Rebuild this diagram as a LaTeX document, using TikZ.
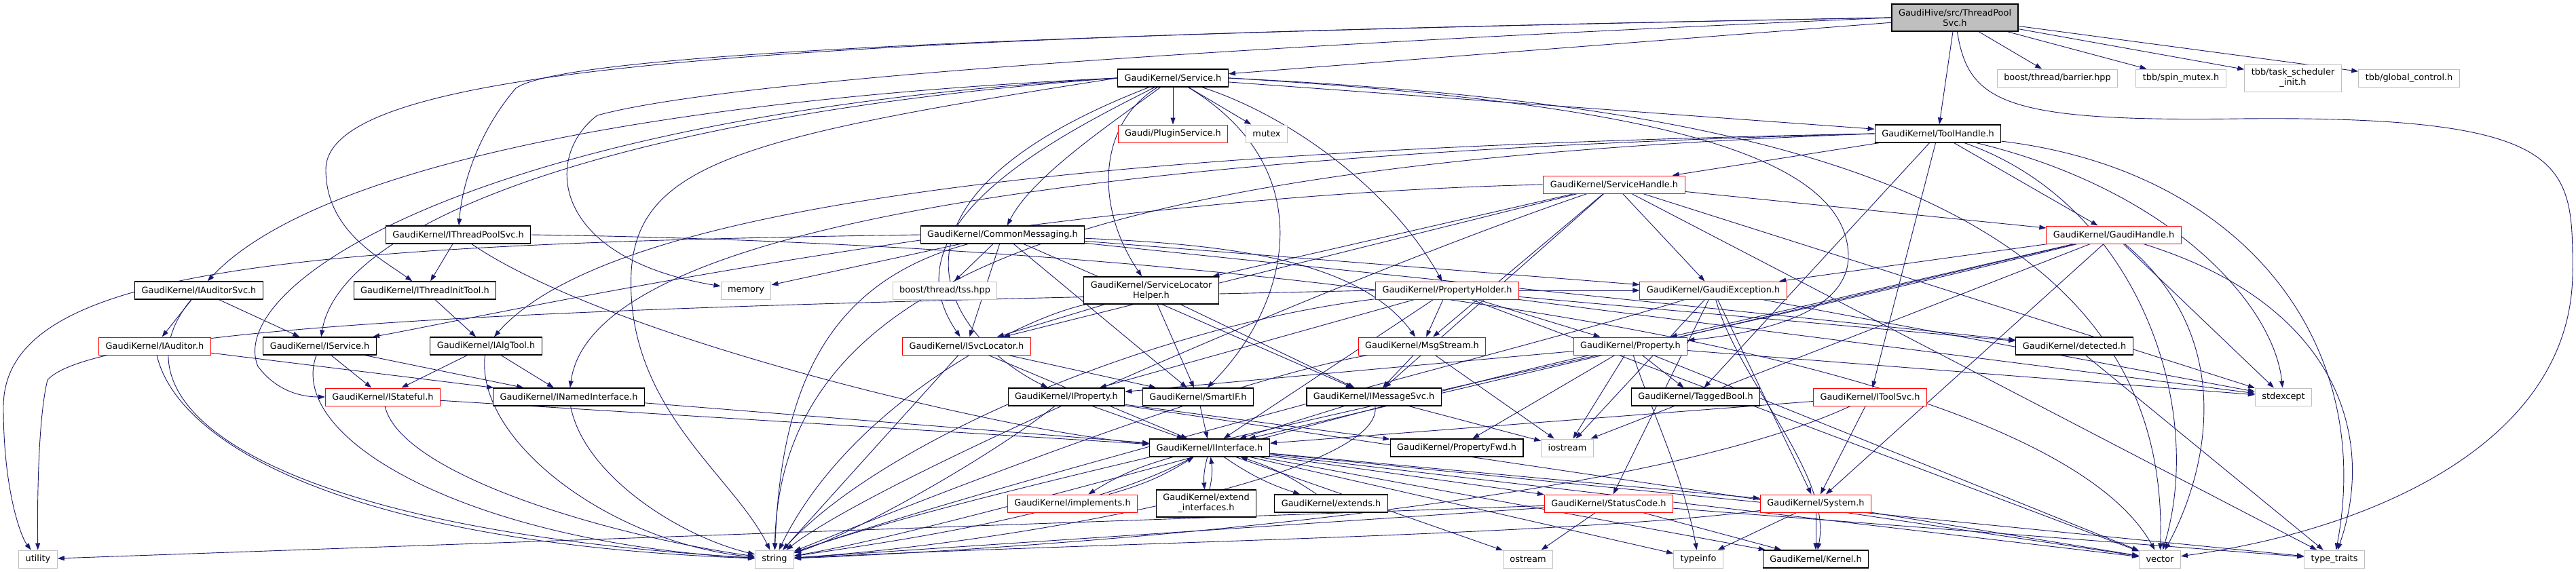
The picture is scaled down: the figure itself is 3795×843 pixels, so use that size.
\documentclass[tikz,border=0pt]{standalone}
\usepackage{fontspec}
\setmainfont{DejaVu Sans}
\usetikzlibrary{arrows.meta}
\definecolor{edgec}{HTML}{191970}
\definecolor{nodegrey}{HTML}{BFBFBF}
\pgfdeclarelayer{bg}
\pgfsetlayers{bg,main}
\begin{document}
\begin{tikzpicture}[x=1pt,y=-1pt,
  box/.style={draw=black,line width=1.3pt,fill=white,minimum height=26pt,inner xsep=10pt,inner ysep=3pt,font=\fontsize{12.9}{15}\selectfont,align=center},
  redbox/.style={box,draw=red,line width=1pt},
  sysbox/.style={box,draw=nodegrey,line width=1pt},
  topbox/.style={box,fill=nodegrey},
  twoline/.style={minimum height=40pt},
  e/.style={draw=edgec,line width=0.9pt,-{Triangle[length=10pt,width=7pt]}},
  ]
\useasboundingbox (0,0) rectangle (3795,843);
% nodes
\node[topbox,twoline] (top) at (2880,26) {GaudiHive/src/ThreadPool\\Svc.h};
\node[box] (service) at (1728,115) {GaudiKernel/Service.h};
\node[sysbox] (barrier) at (3031,115) {boost/thread/barrier.hpp};
\node[sysbox] (spinmutex) at (3213,115) {tbb/spin\_mutex.h};
\node[sysbox,twoline] (tsinit) at (3378,115) {tbb/task\_scheduler\\\_init.h};
\node[sysbox] (globalctl) at (3549,115) {tbb/global\_control.h};
\node[redbox] (plugin) at (1728,197) {Gaudi/PluginService.h};
\node[sysbox] (mutex) at (1866,197) {mutex};
\node[box] (toolhandle) at (2855,197) {GaudiKernel/ToolHandle.h};
\node[redbox] (servicehandle) at (2378,272) {GaudiKernel/ServiceHandle.h};
\node[box] (ithreadpool) at (675,346) {GaudiKernel/IThreadPoolSvc.h};
\node[box] (commonmsg) at (1477,346) {GaudiKernel/CommonMessaging.h};
\node[redbox] (gaudihandle) at (3114,346) {GaudiKernel/GaudiHandle.h};
\node[box] (iauditorsvc) at (293,428) {GaudiKernel/IAuditorSvc.h};
\node[box] (ithreadinit) at (626,428) {GaudiKernel/IThreadInitTool.h};
\node[sysbox] (memory) at (1099,428) {memory};
\node[sysbox] (tss) at (1392,428) {boost/thread/tss.hpp};
\node[box,twoline] (slhelper) at (1696,428) {GaudiKernel/ServiceLocator\\Helper.h};
\node[redbox] (propholder) at (2132,428) {GaudiKernel/PropertyHolder.h};
\node[redbox] (gaudiexc) at (2524,428) {GaudiKernel/GaudiException.h};
\node[redbox] (iauditor) at (228,510) {GaudiKernel/IAuditor.h};
\node[box] (iservice) at (471,510) {GaudiKernel/IService.h};
\node[box] (ialgtool) at (716,510) {GaudiKernel/IAlgTool.h};
\node[redbox] (isvcloc) at (1424,510) {GaudiKernel/ISvcLocator.h};
\node[redbox] (msgstream) at (2095,510) {GaudiKernel/MsgStream.h};
\node[redbox] (property) at (2402,510) {GaudiKernel/Property.h};
\node[box] (detected) at (3056,510) {GaudiKernel/detected.h};
\node[redbox] (istateful) at (564,585) {GaudiKernel/IStateful.h};
\node[box] (inamed) at (838,585) {GaudiKernel/INamedInterface.h};
\node[box] (iproperty) at (1571,585) {GaudiKernel/IProperty.h};
\node[box] (smartif) at (1765,585) {GaudiKernel/SmartIF.h};
\node[box] (imsgsvc) at (2024,585) {GaudiKernel/IMessageSvc.h};
\node[box] (taggedbool) at (2498,585) {GaudiKernel/TaggedBool.h};
\node[redbox] (itoolsvc) at (2755,585) {GaudiKernel/IToolSvc.h};
\node[sysbox] (stdexcept) at (3364,585) {stdexcept};
\node[box] (iinterface) at (1782,660) {GaudiKernel/IInterface.h};
\node[box] (propfwd) at (2146,660) {GaudiKernel/PropertyFwd.h};
\node[sysbox] (iostream) at (2309,660) {iostream};
\node[redbox] (implements) at (1580,742) {GaudiKernel/implements.h};
\node[box,twoline] (extendif) at (1777,742) {GaudiKernel/extend\\\_interfaces.h};
\node[box] (extends) at (1961,742) {GaudiKernel/extends.h};
\node[redbox] (statuscode) at (2370,742) {GaudiKernel/StatusCode.h};
\node[redbox] (system) at (2675,742) {GaudiKernel/System.h};
\node[sysbox] (utility) at (56,824) {utility};
\node[sysbox] (string) at (1141,824) {string};
\node[sysbox] (ostream) at (2251,824) {ostream};
\node[sysbox] (typeinfo) at (2502,824) {typeinfo};
\node[box] (kernel) at (2675,824) {GaudiKernel/Kernel.h};
\node[sysbox] (vector) at (3182,824) {vector};
\node[sysbox] (typetraits) at (3439,824) {type\_traits};
% edges
\begin{pgfonlayer}{bg}
% ThreadPoolSvc.h
\draw[e] (top) -- (service);
\draw[e] (top) -- (toolhandle);
\draw[e] (top) -- (barrier);
\draw[e] (top) -- (spinmutex);
\draw[e] (top) -- (tsinit);
\draw[e] (top) -- (globalctl);
\draw[e] (top.west) .. controls (1500,50) and (830,80) .. (760,130) .. controls (700,200) and (680,280) .. (ithreadpool);
\draw[e] (top.west) .. controls (1200,55) and (480,90) .. (480,250) .. controls (480,340) and (560,380) .. (ithreadinit);
\draw[e] (top.west) .. controls (2000,60) and (1100,110) .. (880,170) .. controls (800,230) and (810,380) .. (memory);
\draw[e] (top) .. controls (2900,150) and (2950,180) .. (3300,175) .. controls (3790,170) and (3790,240) .. (3790,400) .. controls (3790,650) and (3500,780) .. (vector);
% Service.h
\draw[e] (service) -- (plugin);
\draw[e] (service) -- (mutex);
\draw[e] (service.west) .. controls (900,150) and (450,260) .. (iauditorsvc);
\draw[e] (service.west) .. controls (700,170) and (330,420) .. (380,540) .. controls (410,580) and (450,585) .. (istateful);
\draw[e] (service.west) .. controls (900,170) and (500,330) .. (iservice);
\draw[e] (service.west) .. controls (1100,200) and (940,240) .. (930,400) .. controls (920,600) and (1080,700) .. (string);
\draw[e] (service) .. controls (1560,200) and (1300,330) .. (isvcloc);
\draw[e] (service) .. controls (1640,180) and (1520,260) .. (commonmsg);
\draw[e] (service) .. controls (1620,180) and (1610,300) .. (slhelper);
\draw[e] (service) .. controls (1900,170) and (2050,280) .. (propholder);
\draw[e] (service) -- (toolhandle);
\draw[e] (service.east) .. controls (2400,150) and (2725,220) .. (2723,380) .. controls (2720,460) and (2600,490) .. (property);
\draw[e] (service) .. controls (1250,300) and (1400,500) .. (iproperty);
\draw[e] (service) .. controls (1950,250) and (1900,450) .. (smartif);
\draw[e] (service.east) .. controls (2500,150) and (3200,250) .. (vector);
% ToolHandle.h
\draw[e] (toolhandle) -- (servicehandle);
\draw[e] (toolhandle) -- (gaudihandle);
\draw[e] (toolhandle.west) .. controls (1600,220) and (900,300) .. (ialgtool);
\draw[e] (toolhandle.west) .. controls (1500,230) and (870,350) .. (inamed);
\draw[e] (toolhandle.west) .. controls (1600,240) and (1150,400) .. (string);
\draw[e] (toolhandle) -- (itoolsvc);
\draw[e] (toolhandle) -- (taggedbool);
\draw[e] (toolhandle) .. controls (3200,280) and (3350,450) .. (stdexcept);
\draw[e] (toolhandle) .. controls (3300,250) and (3500,500) .. (typetraits);
\draw[e] (toolhandle) .. controls (3150,300) and (3250,600) .. (vector);
% ServiceHandle.h
\draw[e] (servicehandle) -- (gaudihandle);
\draw[e] (servicehandle.west) .. controls (1500,290) and (700,470) .. (iservice);
\draw[e] (servicehandle) -- (isvcloc);
\draw[e] (servicehandle) -- (msgstream);
\draw[e] (servicehandle) -- (slhelper);
\draw[e] (servicehandle) -- (gaudiexc);
\draw[e] (servicehandle) -- (imsgsvc);
\draw[e] (servicehandle) -- (stdexcept);
\draw[e] (servicehandle) .. controls (2000,400) and (1300,700) .. (string);
\draw[e] (servicehandle) -- (typetraits);
% CommonMessaging.h
\draw[e] (commonmsg) -- (memory);
\draw[e] (commonmsg) -- (tss);
\draw[e] (commonmsg) -- (isvcloc);
\draw[e] (commonmsg.west) .. controls (400,360) and (5,400) .. (5,600) .. controls (5,720) and (30,790) .. (utility);
\draw[e] (commonmsg) -- (imsgsvc);
\draw[e] (commonmsg) .. controls (1800,360) and (2000,380) .. (msgstream);
\draw[e] (commonmsg) -- (smartif);
\draw[e] (commonmsg) -- (gaudiexc);
\draw[e] (commonmsg) -- (detected);
\draw[e] (commonmsg) .. controls (1200,420) and (1150,600) .. (string);
% ServiceLocatorHelper.h
\draw[e] (slhelper) -- (isvcloc);
\draw[e] (slhelper) -- (smartif);
\draw[e] (slhelper) -- (imsgsvc);
\draw[e] (slhelper) .. controls (1500,470) and (1250,600) .. (string);
% PropertyHolder.h
\draw[e] (propholder) -- (iproperty);
\draw[e] (propholder) -- (property);
\draw[e] (propholder) -- (msgstream);
\draw[e] (propholder) -- (gaudiexc);
\draw[e] (propholder) -- (detected);
\draw[e] (propholder) -- (iinterface);
\draw[e] (propholder) .. controls (1700,480) and (1300,650) .. (string);
\draw[e] (propholder) -- (stdexcept);
\draw[e] (propholder.west) .. controls (1000,450) and (150,470) .. (70,560) .. controls (55,620) and (55,760) .. (utility);
\draw[e] (propholder) -- (vector);
% GaudiHandle.h
\draw[e] (gaudihandle) -- (gaudiexc);
\draw[e] (gaudihandle) -- (property);
\draw[e] (gaudihandle) -- (iinterface);
\draw[e] (gaudihandle) -- (system);
\draw[e] (gaudihandle) -- (iostream);
\draw[e] (gaudihandle) -- (stdexcept);
\draw[e] (gaudihandle) .. controls (2500,500) and (1500,700) .. (string);
\draw[e] (gaudihandle) .. controls (3300,500) and (3250,700) .. (vector);
\draw[e] (gaudihandle) .. controls (3450,450) and (3500,650) .. (typetraits);
% GaudiException.h
\draw[e] (gaudiexc) -- (statuscode);
\draw[e] (gaudiexc) -- (system);
\draw[e] (gaudiexc) .. controls (2560,560) and (2700,700) .. (kernel);
\draw[e] (gaudiexc) -- (iostream);
\draw[e] (gaudiexc) .. controls (2300,500) and (1500,700) .. (string);
\draw[e] (gaudiexc) -- (stdexcept);
% interfaces
\draw[e] (ithreadpool) -- (ithreadinit);
\draw[e] (ithreadpool) .. controls (900,500) and (1500,640) .. (iinterface);
\draw[e] (ithreadpool.east) .. controls (1800,360) and (3000,500) .. (vector);
\draw[e] (ithreadinit) -- (ialgtool);
\draw[e] (iauditorsvc) -- (iauditor);
\draw[e] (iauditorsvc) -- (iservice);
\draw[e] (iauditorsvc) .. controls (150,600) and (400,780) .. (string);
\draw[e] (iauditor) -- (inamed);
\draw[e] (iauditor) .. controls (260,650) and (500,800) .. (string);
\draw[e] (iservice) -- (inamed);
\draw[e] (iservice) -- (istateful);
\draw[e] (iservice) .. controls (420,650) and (700,800) .. (string);
\draw[e] (ialgtool) -- (inamed);
\draw[e] (ialgtool) -- (istateful);
\draw[e] (ialgtool) .. controls (700,650) and (900,800) .. (string);
\draw[e] (istateful) -- (iinterface);
\draw[e] (istateful) .. controls (590,700) and (900,790) .. (string);
\draw[e] (inamed) -- (iinterface);
\draw[e] (inamed) .. controls (860,700) and (1000,790) .. (string);
\draw[e] (isvcloc) -- (iinterface);
\draw[e] (isvcloc) -- (smartif);
\draw[e] (isvcloc) -- (string);
\draw[e] (msgstream) -- (imsgsvc);
\draw[e] (msgstream) -- (iostream);
\draw[e] (msgstream) .. controls (1800,560) and (1300,760) .. (string);
\draw[e] (property) -- (iproperty);
\draw[e] (property) -- (propfwd);
\draw[e] (property) -- (taggedbool);
\draw[e] (property) .. controls (2430,600) and (2480,700) .. (typeinfo);
\draw[e] (property) -- (iostream);
\draw[e] (property) -- (stdexcept);
\draw[e] (property) .. controls (2000,600) and (1400,780) .. (string);
\draw[e] (property) -- (vector);
\draw[e] (iproperty) -- (iinterface);
\draw[e] (iproperty) -- (propfwd);
\draw[e] (iproperty) .. controls (1450,680) and (1250,790) .. (string);
\draw[e] (iproperty) -- (vector);
\draw[e] (smartif) -- (iinterface);
\draw[e] (imsgsvc) -- (iinterface);
\draw[e] (imsgsvc) .. controls (2040,700) and (1500,800) .. (string);
\draw[e] (imsgsvc) -- (iostream);
\draw[e] (itoolsvc) -- (iinterface);
\draw[e] (itoolsvc) -- (system);
\draw[e] (itoolsvc) .. controls (2400,750) and (1500,810) .. (string);
\draw[e] (detected) -- (typetraits);
% IInterface.h
\draw[e] (iinterface) to[bend right=8] (implements);
\draw[e] (implements) to[bend right=8] (iinterface);
\draw[e] (iinterface) to[bend right=10] (extendif);
\draw[e] (extendif) to[bend right=10] (iinterface);
\draw[e] (iinterface) to[bend right=8] (extends);
\draw[e] (extends) to[bend right=8] (iinterface);
\draw[e] (iinterface) -- (statuscode);
\draw[e] (iinterface) -- (system);
\draw[e] (iinterface) -- (kernel);
\draw[e] (iinterface) -- (ostream);
\draw[e] (iinterface) -- (typeinfo);
\draw[e] (iinterface) .. controls (1600,760) and (1300,800) .. (string);
\draw[e] (iinterface) -- (vector);
\draw[e] (iinterface) -- (typetraits);
% StatusCode.h, System.h
\draw[e] (statuscode) -- (kernel);
\draw[e] (statuscode) -- (ostream);
\draw[e] (statuscode) -- (string);
\draw[e] (statuscode) -- (typetraits);
\draw[e] (statuscode) -- (utility);
\draw[e] (system) -- (kernel);
\draw[e] (system) -- (typeinfo);
\draw[e] (system) .. controls (2300,790) and (1600,800) .. (string);
\draw[e] (system) -- (vector);
\end{pgfonlayer}
\end{tikzpicture}
\end{document}
